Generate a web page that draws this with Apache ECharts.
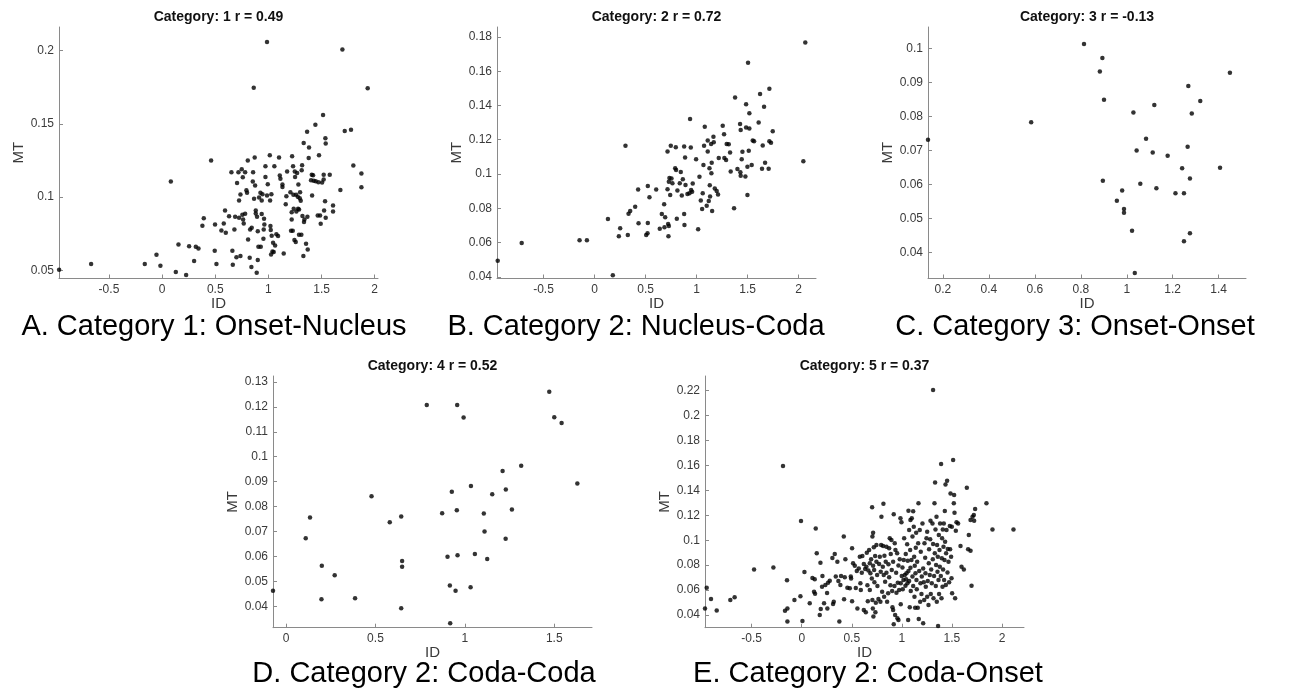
<!DOCTYPE html>
<html>
<head>
<meta charset="utf-8">
<script src="https://cdn.jsdelivr.net/npm/echarts@6.0.0/dist/echarts.min.js"></script>
<style>
  html, body { margin: 0; padding: 0; background: #fff; }
  #chart { width: 1307px; height: 696px; }
</style>
</head>
<body>
<div id="chart"></div>
<script>
// panel titles (as in the matlab figures) and the captions under them
const panelTitles = ['Category: 1 r = 0.49', 'Category: 2 r = 0.72', 'Category: 3 r = -0.13', 'Category: 4 r = 0.52', 'Category: 5 r = 0.37'];
const captions = ['A. Category 1: Onset-Nucleus', 'B. Category 2: Nucleus-Coda', 'C. Category 3: Onset-Onset', 'D. Category 2: Coda-Coda', 'E. Category 2: Coda-Onset'];

// tick values per panel
const xTicksA = [-0.5, 0, 0.5, 1, 1.5, 2];
const yTicksA = [0.05, 0.1, 0.15, 0.2];
const xTicksB = [-0.5, 0, 0.5, 1, 1.5, 2];
const yTicksB = [0.04, 0.06, 0.08, 0.1, 0.12, 0.14, 0.16, 0.18];
const xTicksC = [0.2, 0.4, 0.6, 0.8, 1, 1.2, 1.4];
const yTicksC = [0.04, 0.05, 0.06, 0.07, 0.08, 0.09, 0.1];
const xTicksD = [0, 0.5, 1, 1.5];
const yTicksD = [0.04, 0.05, 0.06, 0.07, 0.08, 0.09, 0.1, 0.11, 0.12, 0.13];
const xTicksE = [-0.5, 0, 0.5, 1, 1.5, 2];
const yTicksE = [0.04, 0.06, 0.08, 0.1, 0.12, 0.14, 0.16, 0.18, 0.2, 0.22];

// axis extents (matlab tight limits)
const xRangeA = [-0.97, 2.031], yRangeA = [0.0446, 0.2159];
const xRangeB = [-0.956, 2.17], yRangeB = [0.039, 0.1858];
const xRangeC = [0.135, 1.519], yRangeC = [0.0323, 0.1064];
const xRangeD = [-0.073, 1.711], yRangeD = [0.0314, 0.1324];
const xRangeE = [-0.966, 2.22], yRangeE = [0.0298, 0.2318];

// [ID, MT] points
const pointsA = [
  [-0.969,0.0505],[-0.668,0.0545],[-0.163,0.0545],[-0.053,0.0608],[-0.016,0.0533],[0.082,0.1107],[0.129,0.0491],[0.154,0.0678],
  [0.226,0.047],[0.254,0.0665],[0.301,0.0565],[0.317,0.0662],[0.342,0.065],[0.379,0.0805],[0.392,0.0857],[0.461,0.125],
  [0.495,0.0635],[0.498,0.0814],[0.511,0.0545],[0.558,0.0773],[0.58,0.082],[0.599,0.0758],[0.592,0.091],[0.63,0.087],
  [0.652,0.117],[0.661,0.0635],[0.665,0.054],[0.68,0.078],[0.687,0.0866],[0.699,0.059],[0.705,0.1097],[0.718,0.117],
  [0.724,0.086],[0.724,0.0977],[0.737,0.06],[0.737,0.1018],[0.749,0.119],[0.755,0.088],[0.759,0.1136],[0.762,0.0848],
  [0.768,0.082],[0.781,0.117],[0.793,0.1047],[0.781,0.0887],[0.799,0.103],[0.806,0.125],[0.809,0.0712],[0.824,0.0588],
  [0.828,0.078],[0.84,0.0525],[0.843,0.0792],[0.853,0.1107],[0.856,0.117],[0.862,0.1745],[0.865,0.099],[0.871,0.127],
  [0.875,0.108],[0.881,0.091],[0.881,0.0889],[0.89,0.0486],[0.893,0.0866],[0.9,0.0572],[0.9,0.0767],[0.906,0.0662],
  [0.912,0.0998],[0.925,0.103],[0.928,0.0662],[0.937,0.0885],[0.937,0.0977],[0.944,0.102],[0.953,0.0717],[0.956,0.078],
  [0.959,0.0853],[0.962,0.0814],[0.972,0.121],[0.972,0.1138],[0.987,0.2056],[0.987,0.1011],[0.994,0.1088],[1.013,0.1285],
  [1.016,0.0977],[1.019,0.0803],[1.022,0.0776],[1.025,0.061],[1.028,0.102],[1.031,0.0737],[1.038,0.063],[1.044,0.069],
  [1.056,0.121],[1.063,0.067],[1.075,0.0748],[1.091,0.0735],[1.1,0.127],[1.107,0.1147],[1.113,0.1125],[1.132,0.1086],
  [1.132,0.107],[1.144,0.0617],[1.163,0.0952],[1.169,0.1007],[1.176,0.1175],[1.207,0.1034],[1.213,0.0771],[1.219,0.0848],
  [1.219,0.0898],[1.223,0.1279],[1.229,0.0771],[1.232,0.121],[1.235,0.1016],[1.238,0.0921],[1.245,0.0708],[1.248,0.1175],
  [1.251,0.1138],[1.257,0.0694],[1.26,0.1016],[1.263,0.0903],[1.27,0.1165],[1.276,0.1002],[1.279,0.0921],[1.282,0.1086],
  [1.288,0.0744],[1.288,0.0916],[1.295,0.0993],[1.298,0.1034],[1.304,0.0975],[1.31,0.0744],[1.313,0.1184],[1.317,0.1218],
  [1.32,0.0871],[1.329,0.0599],[1.332,0.1369],[1.335,0.083],[1.339,0.0848],[1.354,0.0683],[1.364,0.1446],[1.367,0.0866],
  [1.37,0.0644],[1.379,0.1267],[1.382,0.1338],[1.401,0.1116],[1.408,0.1152],[1.411,0.1011],[1.42,0.115],[1.426,0.1111],
  [1.442,0.1494],[1.445,0.1109],[1.464,0.0875],[1.47,0.1102],[1.476,0.1285],[1.486,0.0875],[1.492,0.0819],[1.505,0.11],
  [1.514,0.156],[1.52,0.1152],[1.52,0.112],[1.524,0.0909],[1.533,0.0973],[1.536,0.1401],[1.539,0.1365],[1.539,0.086],
  [1.577,0.1152],[1.608,0.0943],[1.608,0.0903],[1.677,0.1048],[1.696,0.2006],[1.718,0.1451],[1.777,0.146],[1.799,0.1215],
  [1.875,0.1161],[1.875,0.1068],[1.934,0.1741],[1.05,0.0626]
];

const pointsB = [
  [-0.949,0.0494],[-0.714,0.0597],[-0.147,0.0613],[-0.075,0.0613],[0.131,0.0737],[0.179,0.0409],[0.238,0.0636],[0.251,0.0683],
  [0.303,0.1165],[0.326,0.0644],[0.333,0.0768],[0.349,0.0784],[0.398,0.0809],[0.427,0.0909],[0.431,0.0712],[0.506,0.0644],
  [0.519,0.0654],[0.522,0.093],[0.522,0.0714],[0.538,0.0864],[0.604,0.0909],[0.639,0.0681],[0.659,0.0767],[0.682,0.0823],
  [0.692,0.0747],[0.715,0.1132],[0.715,0.0911],[0.721,0.0708],[0.724,0.0636],[0.728,0.0696],[0.728,0.0955],[0.734,0.0977],
  [0.741,0.0877],[0.747,0.1165],[0.754,0.0973],[0.763,0.0946],[0.79,0.1033],[0.796,0.1156],[0.799,0.1023],[0.806,0.0739],
  [0.812,0.0903],[0.835,0.0946],[0.845,0.1012],[0.855,0.0874],[0.865,0.0969],[0.878,0.0767],[0.878,0.116],[0.881,0.0702],
  [0.887,0.1097],[0.891,0.0936],[0.91,0.0883],[0.93,0.0887],[0.936,0.1321],[0.943,0.1154],[0.946,0.0907],[0.956,0.0897],
  [0.962,0.0944],[0.995,0.1086],[1.015,0.0677],[1.028,0.0984],[1.041,0.0846],[1.054,0.0796],[1.06,0.0887],[1.067,0.1053],
  [1.073,0.1165],[1.08,0.1276],[1.099,0.0815],[1.109,0.1195],[1.109,0.1132],[1.119,0.0842],[1.126,0.1033],[1.129,0.0934],
  [1.132,0.0868],[1.142,0.1175],[1.145,0.1004],[1.148,0.1066],[1.152,0.0784],[1.165,0.1218],[1.168,0.1185],[1.178,0.0916],
  [1.197,0.0901],[1.21,0.0881],[1.217,0.1093],[1.256,0.1282],[1.269,0.1232],[1.272,0.1093],[1.289,0.1082],[1.295,0.1175],
  [1.315,0.1173],[1.328,0.1126],[1.334,0.1014],[1.377,0.1447],[1.367,0.08],[1.4,0.1029],[1.426,0.1292],[1.432,0.1257],
  [1.429,0.101],[1.432,0.099],[1.442,0.1086],[1.449,0.113],[1.478,0.0986],[1.485,0.1407],[1.485,0.1272],[1.498,0.0877],
  [1.504,0.165],[1.498,0.1043],[1.511,0.1136],[1.517,0.1354],[1.517,0.1265],[1.54,0.1053],[1.55,0.1195],[1.563,0.1191],
  [1.608,0.13],[1.622,0.1467],[1.641,0.1031],[1.648,0.1167],[1.661,0.1393],[1.671,0.1066],[1.706,0.1031],[1.713,0.1498],
  [1.713,0.1191],[1.729,0.1183],[1.746,0.1249],[2.046,0.1074],[2.065,0.1768],[0.685,0.0689]
];

const pointsC = [
  [0.135,0.0732],[0.584,0.0783],[0.814,0.1014],[0.894,0.0973],[0.883,0.0933],[0.901,0.085],[0.896,0.0611],[0.98,0.0582],
  [0.957,0.0552],[0.988,0.0528],[0.988,0.0517],[1.023,0.0464],[1.035,0.0339],[1.029,0.0812],[1.043,0.07],[1.059,0.0602],
  [1.084,0.0735],[1.113,0.0694],[1.12,0.0834],[1.129,0.0589],[1.178,0.0685],[1.212,0.0574],[1.241,0.0648],[1.249,0.0574],
  [1.249,0.0433],[1.265,0.0711],[1.268,0.089],[1.275,0.0618],[1.275,0.0456],[1.283,0.0809],[1.32,0.0846],[1.406,0.0649],
  [1.449,0.0929]
];

const pointsD = [
  [-0.073,0.0462],[0.11,0.0673],[0.134,0.0756],[0.2,0.0563],[0.198,0.0428],[0.272,0.0524],[0.386,0.0432],[0.478,0.0841],
  [0.58,0.0737],[0.644,0.076],[0.649,0.0582],[0.649,0.0559],[0.644,0.0392],[0.787,0.1208],[0.873,0.0773],[0.903,0.0599],
  [0.918,0.0332],[0.916,0.0483],[0.927,0.086],[0.948,0.0462],[0.955,0.0785],[0.957,0.1208],[0.959,0.0605],[0.993,0.1157],
  [1.032,0.0476],[1.034,0.0883],[1.056,0.061],[1.106,0.0772],[1.11,0.07],[1.125,0.059],[1.153,0.0849],[1.211,0.0943],
  [1.228,0.0671],[1.229,0.0869],[1.263,0.0788],[1.315,0.0964],[1.472,0.1261],[1.5,0.1158],[1.541,0.1135],[1.629,0.0893]
];

const pointsE = [
  [-0.966,0.0453],[-0.949,0.0619],[-0.906,0.0528],[-0.849,0.0437],[-0.713,0.052],[-0.67,0.0542],[-0.476,0.0766],[-0.283,0.0782],
  [-0.187,0.1596],[-0.167,0.0435],[-0.143,0.0453],[-0.143,0.0347],[-0.147,0.0678],[-0.073,0.052],[-0.007,0.1154],[-0.013,0.055],
  [0.007,0.0352],[0.027,0.0745],[0.08,0.0494],[0.107,0.0697],[0.13,0.0686],[0.123,0.0587],[0.133,0.0571],[0.14,0.1095],
  [0.15,0.0895],[0.18,0.04],[0.187,0.082],[0.19,0.0448],[0.207,0.0713],[0.203,0.0627],[0.223,0.0494],[0.236,0.0641],
  [0.253,0.0577],[0.256,0.0453],[0.263,0.0659],[0.28,0.0675],[0.306,0.0857],[0.32,0.0507],[0.313,0.0488],[0.33,0.0889],
  [0.34,0.0708],[0.356,0.0828],[0.366,0.0673],[0.376,0.0347],[0.386,0.0641],[0.393,0.0713],[0.42,0.1029],[0.423,0.0526],
  [0.43,0.0702],[0.436,0.0847],[0.456,0.0619],[0.48,0.0614],[0.49,0.0708],[0.493,0.0692],[0.503,0.051],[0.503,0.0935],
  [0.513,0.0815],[0.53,0.0796],[0.54,0.0617],[0.55,0.0753],[0.556,0.0453],[0.57,0.0774],[0.58,0.0868],[0.586,0.0654],
  [0.59,0.0601],[0.6,0.074],[0.606,0.0873],[0.62,0.044],[0.62,0.0809],[0.633,0.0769],[0.64,0.0421],[0.646,0.0788],
  [0.65,0.09],[0.656,0.0638],[0.66,0.051],[0.666,0.0758],[0.673,0.0922],[0.68,0.0815],[0.68,0.0601],[0.686,0.0734],
  [0.693,0.0847],[0.7,0.0692],[0.703,0.1264],[0.706,0.1029],[0.706,0.052],[0.71,0.0453],[0.713,0.1061],[0.713,0.0796],
  [0.716,0.0387],[0.72,0.0943],[0.723,0.0761],[0.726,0.0662],[0.733,0.0873],[0.736,0.0421],[0.74,0.0499],[0.746,0.0828],
  [0.746,0.0962],[0.753,0.0721],[0.756,0.0633],[0.766,0.0528],[0.773,0.0809],[0.78,0.0868],[0.786,0.0507],[0.789,0.0748],
  [0.793,0.0962],[0.796,0.1189],[0.803,0.0587],[0.81,0.0788],[0.813,0.0954],[0.816,0.1293],[0.819,0.0721],[0.823,0.0547],
  [0.826,0.0876],[0.833,0.0667],[0.839,0.0828],[0.846,0.0948],[0.846,0.074],[0.853,0.0507],[0.863,0.0574],[0.866,0.0807],
  [0.873,0.0702],[0.873,0.0935],[0.879,0.1015],[0.886,0.0638],[0.889,0.0889],[0.896,0.1002],[0.899,0.0761],[0.903,0.0593],
  [0.906,0.0462],[0.913,0.044],[0.913,0.0828],[0.919,0.1208],[0.919,0.0325],[0.926,0.0633],[0.929,0.0975],[0.933,0.04],
  [0.936,0.0922],[0.943,0.074],[0.946,0.0579],[0.953,0.0895],[0.956,0.0373],[0.959,0.0659],[0.966,0.0798],[0.966,0.036],
  [0.973,0.0601],[0.979,0.0847],[0.986,0.1176],[0.989,0.0486],[0.989,0.0654],[0.996,0.1144],[0.999,0.0713],[1.006,0.0782],
  [1.009,0.0606],[1.016,0.0681],[1.019,0.0841],[1.023,0.1015],[1.029,0.0721],[1.036,0.0635],[1.039,0.0889],[1.043,0.0686],
  [1.046,0.0734],[1.053,0.0967],[1.056,0.0654],[1.059,0.0836],[1.063,0.036],[1.066,0.1237],[1.066,0.0753],[1.073,0.1082],
  [1.073,0.0673],[1.079,0.0462],[1.083,0.0922],[1.086,0.1162],[1.086,0.078],[1.089,0.0593],[1.096,0.0841],[1.099,0.1176],
  [1.106,0.0708],[1.106,0.1029],[1.113,0.1232],[1.113,0.0633],[1.119,0.1109],[1.123,0.0868],[1.126,0.0547],[1.129,0.0796],
  [1.133,0.0459],[1.136,0.0734],[1.139,0.094],[1.143,0.1061],[1.146,0.0681],[1.149,0.0606],[1.153,0.0828],[1.159,0.0459],
  [1.163,0.0975],[1.166,0.1296],[1.169,0.0368],[1.173,0.0753],[1.179,0.1082],[1.183,0.0507],[1.186,0.0654],[1.189,0.0908],
  [1.196,0.0568],[1.199,0.0708],[1.206,0.1135],[1.213,0.0333],[1.213,0.0774],[1.219,0.0662],[1.223,0.052],[1.226,0.0975],
  [1.233,0.086],[1.236,0.0734],[1.239,0.0627],[1.246,0.1015],[1.253,0.1069],[1.253,0.0547],[1.259,0.0673],[1.266,0.048],
  [1.269,0.0815],[1.272,0.0927],[1.279,0.0721],[1.283,0.1007],[1.286,0.1157],[1.289,0.0568],[1.293,0.0766],[1.299,0.0654],
  [1.306,0.1135],[1.309,0.0847],[1.312,0.2205],[1.312,0.097],[1.316,0.0534],[1.322,0.0713],[1.326,0.1296],[1.329,0.0895],
  [1.332,0.1464],[1.336,0.1087],[1.339,0.0633],[1.342,0.0801],[1.346,0.1189],[1.349,0.0507],[1.352,0.0962],[1.356,0.0748],
  [1.359,0.0868],[1.362,0.0312],[1.366,0.0681],[1.369,0.1042],[1.372,0.0568],[1.376,0.0922],[1.379,0.0788],[1.382,0.1135],
  [1.389,0.0713],[1.392,0.1612],[1.396,0.0534],[1.399,0.0855],[1.402,0.1015],[1.406,0.0627],[1.409,0.1087],[1.412,0.0766],
  [1.416,0.0948],[1.419,0.1135],[1.422,0.0681],[1.426,0.0841],[1.429,0.1234],[1.432,0.0988],[1.436,0.1448],[1.439,0.0641],
  [1.442,0.0895],[1.446,0.1082],[1.452,0.1478],[1.456,0.0742],[1.459,0.093],[1.466,0.0828],[1.472,0.0662],[1.479,0.1114],
  [1.482,0.0927],[1.486,0.1376],[1.492,0.0868],[1.496,0.0694],[1.499,0.1109],[1.502,0.0574],[1.512,0.1644],[1.519,0.1296],
  [1.522,0.1363],[1.526,0.1221],[1.532,0.0534],[1.539,0.1077],[1.546,0.1144],[1.562,0.1135],[1.586,0.0954],[1.596,0.0788],
  [1.619,0.0766],[1.649,0.1422],[1.662,0.0927],[1.669,0.1042],[1.686,0.0916],[1.686,0.1162],[1.696,0.0635],[1.706,0.1189],
  [1.719,0.1202],[1.722,0.1157],[1.732,0.125],[1.845,0.1296],[1.905,0.1087],[2.115,0.1087]
];

const FONT = '"Liberation Sans", Arial, Helvetica, sans-serif';
const AXIS_COLOR = '#8a8a8a';
const LABEL_COLOR = '#3a3a3a';

// plot boxes in pixels (left, top, width, height)
const boxes = [
  [59, 27, 319, 251.5],
  [497, 27, 319, 251.5],
  [928, 27, 318, 251.5],
  [273, 376, 319, 251.7],
  [705, 376, 319, 251.7]
];
const captionPos = [[214, 312], [636, 312], [1075, 312], [424, 659], [868, 659]];

const panels = [
  { pts: pointsA, xr: xRangeA, yr: yRangeA, xt: xTicksA, yt: yTicksA },
  { pts: pointsB, xr: xRangeB, yr: yRangeB, xt: xTicksB, yt: yTicksB },
  { pts: pointsC, xr: xRangeC, yr: yRangeC, xt: xTicksC, yt: yTicksC },
  { pts: pointsD, xr: xRangeD, yr: yRangeD, xt: xTicksD, yt: yTicksD },
  { pts: pointsE, xr: xRangeE, yr: yRangeE, xt: xTicksE, yt: yTicksE }
];

function fmt(v) {
  return String(Math.round(v * 1000) / 1000);
}

function makeAxis(i, range, ticks, name, gap) {
  return {
    type: 'value',
    gridIndex: i,
    min: range[0],
    max: range[1],
    name: name,
    nameLocation: 'middle',
    nameGap: gap,
    nameTextStyle: { fontFamily: FONT, fontSize: 15, color: LABEL_COLOR },
    axisLine: { show: true, onZero: false, lineStyle: { color: AXIS_COLOR, width: 1 } },
    axisTick: { show: true, inside: true, length: 4, customValues: ticks, lineStyle: { color: AXIS_COLOR } },
    axisLabel: { customValues: ticks, formatter: fmt, fontFamily: FONT, fontSize: 12, color: LABEL_COLOR, margin: 5 },
    splitLine: { show: false }
  };
}

const grids = [], xAxes = [], yAxes = [], series = [], titles = [];
panels.forEach((p, i) => {
  const b = boxes[i];
  grids.push({ left: b[0], top: b[1], width: b[2], height: b[3], containLabel: false });
  xAxes.push(makeAxis(i, p.xr, p.xt, 'ID', 17));
  yAxes.push(makeAxis(i, p.yr, p.yt, 'MT', 32));
  series.push({
    type: 'scatter',
    xAxisIndex: i,
    yAxisIndex: i,
    data: p.pts,
    symbol: 'circle',
    symbolSize: 4.5,
    clip: false,
    itemStyle: { color: '#000' },
    silent: true
  });
  titles.push({
    text: panelTitles[i],
    left: b[0] + b[2] / 2,
    top: b[1] - 17,
    textAlign: 'center',
    padding: 0,
    textStyle: { fontFamily: FONT, fontSize: 14, fontWeight: 'bold', color: '#111' }
  });
  titles.push({
    text: captions[i],
    left: captionPos[i][0],
    top: captionPos[i][1],
    textAlign: 'center',
    padding: 0,
    textStyle: { fontFamily: FONT, fontSize: 29, fontWeight: 'normal', color: '#000' }
  });
});

const chart = echarts.init(document.getElementById('chart'), null, { renderer: 'canvas' });
chart.setOption({
  animation: false,
  backgroundColor: '#fff',
  title: titles,
  grid: grids,
  xAxis: xAxes,
  yAxis: yAxes,
  series: series
});

window.addEventListener('resize', () => chart.resize());
</script>
</body>
</html>
